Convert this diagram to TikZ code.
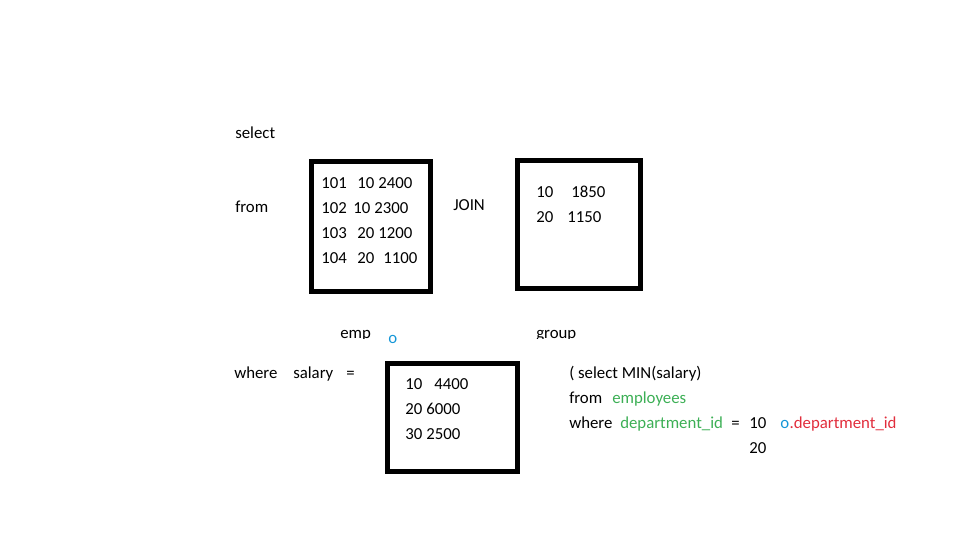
\documentclass[tikz,border=0pt]{standalone}
\usepackage{fontspec}
\setmainfont{Carlito}
\definecolor{sqlgreen}{RGB}{60,175,85}
\definecolor{sqlblue}{RGB}{20,150,215}
\definecolor{sqlred}{RGB}{225,45,60}
\begin{document}
\begin{tikzpicture}[x=0.75pt,y=-0.75pt,
  txt/.style={anchor=base west,inner sep=0pt,font=\fontsize{12.6}{15}\selectfont},
  tbl/.style={draw=black,line width=3.75pt}]
\useasboundingbox (0,0) rectangle (960,540);
% labels
\node[txt] (sel) at (235,138) {select};
\node[txt] (frm) at (235,212) {from};
\node[txt] (join) at (453,210) {JOIN};
% box 1
\draw[tbl] (311.5,161) rectangle (430.5,291.5);
\foreach \y/\a/\xb/\b/\xc/\c [count=\i] in {188/101/357/10/378/2400, 213/102/353/10/374/2300, 238/103/357/20/378/1200, 263/104/357/20/383/1100}{
  \node[txt] (ea\i) at (321,\y) {\a};
  \node[txt] (eb\i) at (\xb,\y) {\b};
  \node[txt] (ec\i) at (\xc,\y) {\c};
}
% box 2
\draw[tbl] (517.5,160) rectangle (640.5,288.5);
\node[txt] (ga1) at (536,197) {10};
\node[txt] (gb1) at (571,197) {1850};
\node[txt] (ga2) at (536,222) {20};
\node[txt] (gb2) at (567,222) {1150};
% captions (clipped at bottom)
\begin{scope}
\clip (300,300) rectangle (620,338.5);
\node[txt] (emp) at (340,338) {emp};
\node[txt] (grp) at (536,338) {group};
\end{scope}
\node[txt,text=sqlblue] (o1) at (388,343) {o};
% where line
\node[txt] (wh) at (234,378) {where};
\node[txt] (sal) at (293,378) {salary};
\node[txt] (eq) at (346,378) {=};
% box 3
\draw[tbl] (387.5,363.5) rectangle (517.5,471.5);
\node[txt] (ma1) at (405,389) {10};
\node[txt] (mb1) at (434,389) {4400};
\node[txt] (ma2) at (405,414) {20};
\node[txt] (mb2) at (426,414) {6000};
\node[txt] (ma3) at (405,439) {30};
\node[txt] (mb3) at (426,439) {2500};
% subquery
\node[txt] (s1) at (569,378) {( select MIN(salary)};
\node[txt] (s2) at (569,403) {from};
\node[txt,text=sqlgreen] (s2b) at (612,403) {employees};
\node[txt] (s3) at (569,428) {where};
\node[txt,text=sqlgreen] (s3b) at (620,428) {department\_id};
\node[txt] (s3c) at (731,428) {=};
\node[txt] (s3d) at (749,428) {10};
\node[txt,text=sqlblue] (s3e) at (780,428) {o};
\node[txt,text=sqlred] (s3f) at (s3e.base east) {.department\_id};
\node[txt] (s4) at (749,453) {20};
\end{tikzpicture}
\end{document}
